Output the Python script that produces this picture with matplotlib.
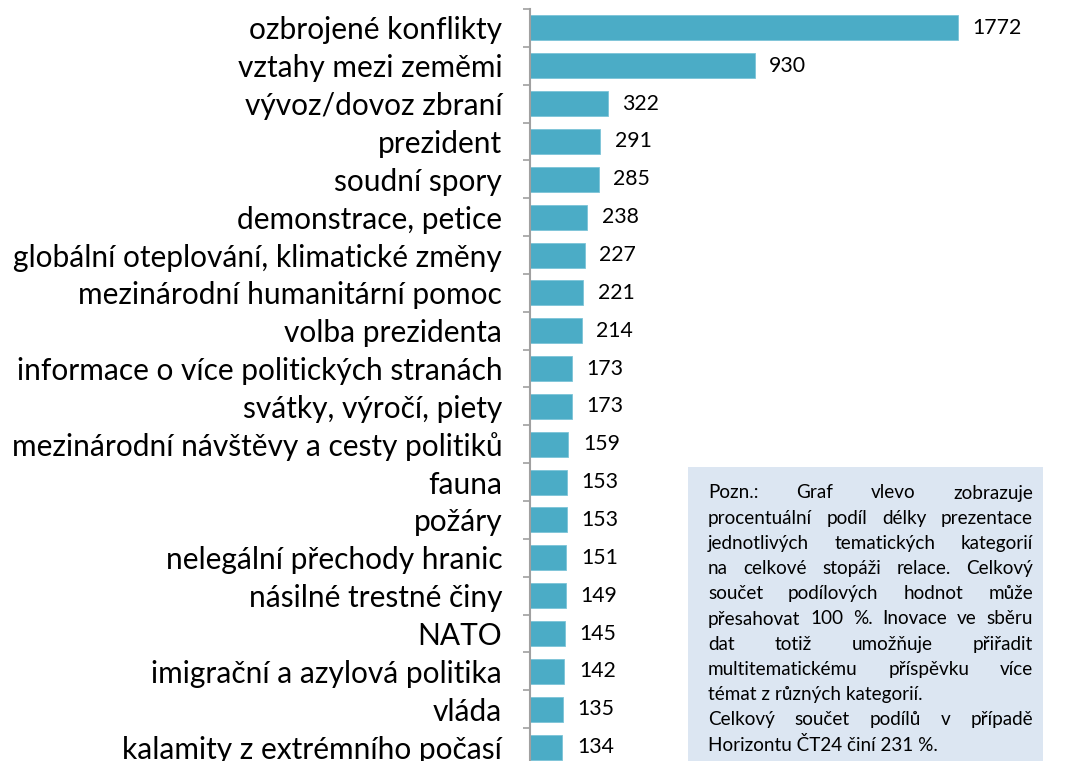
import matplotlib
matplotlib.use("Agg")
import matplotlib.pyplot as plt
from matplotlib.patches import Rectangle

categories = [
    "ozbrojené konflikty", "vztahy mezi zeměmi", "vývoz/dovoz zbraní", "prezident",
    "soudní spory", "demonstrace, petice", "globální oteplování, klimatické změny",
    "mezinárodní humanitární pomoc", "volba prezidenta",
    "informace o více politických stranách", "svátky, výročí, piety",
    "mezinárodní návštěvy a cesty politiků", "fauna", "požáry",
    "nelegální přechody hranic", "násilné trestné činy", "NATO",
    "imigrační a azylová politika", "vláda", "kalamity z extrémního počasí",
]
values = [1772, 930, 322, 291, 285, 238, 227, 221, 214, 173,
          173, 159, 153, 153, 151, 149, 145, 142, 135, 134]

note_lines = [
    ("Pozn.: Graf vlevo zobrazuje", True),
    ("procentuální podíl délky prezentace", True),
    ("jednotlivých tematických kategorií", True),
    ("na celkové stopáži relace. Celkový", True),
    ("součet podílových hodnot může", True),
    ("přesahovat 100 %. Inovace ve sběru", True),
    ("dat totiž umožňuje přiřadit", True),
    ("multitematickému příspěvku více", True),
    ("témat z různých kategorií.", False),
    ("Celkový součet podílů v případě", True),
    ("Horizontu ČT24 činí 231 %.", False),
]

FONT = "Lato"
W, H = 1083, 761
fig = plt.figure(figsize=(W / 100, H / 100), dpi=100)

# axes placed in pixel terms; bottom runs a little past the figure edge
left, right, top, bottom = 530, 1013, 9, 766
ax = fig.add_axes([left / W, 1 - bottom / H, (right - left) / W, (bottom - top) / H])

n = len(categories)
ypos = list(range(n))
ax.barh(ypos, values, height=0.66, color="#4bacc6", edgecolor="#7cc4d8", linewidth=0.6)
ax.set_xlim(0, 2000)
ax.set_ylim(n - 0.5, -0.5)

for y, v in zip(ypos, values):
    ax.text(v + 60, y, str(v), va="center", ha="left", fontsize=15.3,
            family=FONT, color="black")

ax.set_yticks(ypos)
ax.set_yticklabels(categories, fontsize=21.5, family=FONT)
ax.set_yticks([i - 0.5 for i in range(n + 1)], minor=True)
ax.tick_params(axis="y", which="major", length=0, pad=20)
ax.tick_params(axis="y", which="minor", length=5, width=1.2, color="#a0a0a0", direction="out")
ax.set_xticks([])
for s in ["top", "right", "bottom"]:
    ax.spines[s].set_visible(False)
ax.spines["left"].set_color("#a0a0a0")
ax.spines["left"].set_linewidth(1.5)

# note box
bx0, bx1, by0, by1 = 688, 1043, 467, 770
fig.patches.append(Rectangle((bx0 / W, 1 - by1 / H), (bx1 - bx0) / W, (by1 - by0) / H,
                             transform=fig.transFigure, facecolor="#dce6f2",
                             edgecolor="none", zorder=0))

tx0, tx1 = 708, 1033
line_y0, line_step = 493, 25.2
fs_note = 13.6
renderer = fig.canvas.get_renderer()
for i, (line, justify) in enumerate(note_lines):
    yy = 1 - (line_y0 + i * line_step) / H
    words = line.split(" ")
    if not justify:
        fig.text(tx0 / W, yy, line, fontsize=fs_note, family=FONT, va="center", ha="left")
        continue
    widths = []
    for w in words:
        t = fig.text(0, 0, w, fontsize=fs_note, family=FONT)
        widths.append(t.get_window_extent(renderer).width)
        t.remove()
    gap = (tx1 - tx0 - sum(widths)) / (len(words) - 1)
    x = tx0
    for w, wd in zip(words, widths):
        fig.text(x / W, yy, w, fontsize=fs_note, family=FONT, va="center", ha="left")
        x += wd + gap

fig.savefig("out.png", dpi=100)
